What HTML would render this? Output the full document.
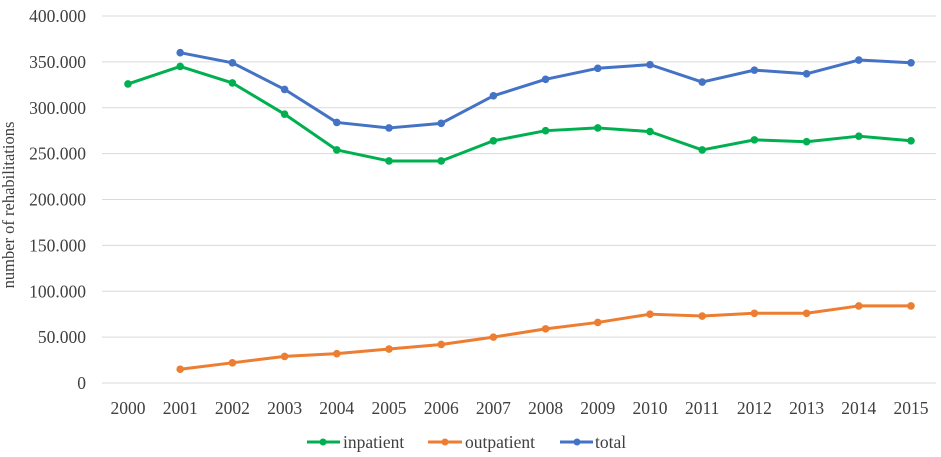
<!DOCTYPE html>
<html><head><meta charset="utf-8"><style>
body{margin:0;background:#fff}
svg{display:block;font-family:"Liberation Serif",serif}
</style></head><body>
<svg id="chart" width="941" height="457" viewBox="0 0 941 457">
<g id="grid"></g>
<g id="yticks"></g>
<g id="xticks"></g>
<text transform="translate(14,205) rotate(-90)" text-anchor="middle" font-size="16.5" fill="#404040">number  of rehabilitations</text>
<g id="series"></g>
<g font-size="17.5" fill="#404040">
<g><line x1="307" y1="442" x2="340" y2="442" stroke="#00b050" stroke-width="3"/><circle cx="323" cy="442" r="3.5" fill="#00b050"/><text x="343" y="448" fill="#404040">inpatient</text></g>
<g><line x1="428" y1="442" x2="462" y2="442" stroke="#ed7d31" stroke-width="3"/><circle cx="445" cy="442" r="3.5" fill="#ed7d31"/><text x="465" y="448" fill="#404040">outpatient</text></g>
<g><line x1="560" y1="442" x2="593" y2="442" stroke="#4472c4" stroke-width="3"/><circle cx="577" cy="442" r="3.5" fill="#4472c4"/><text x="595" y="448" fill="#404040">total</text></g>
</g>
</svg>
<script>
const years=[2000,2001,2002,2003,2004,2005,2006,2007,2008,2009,2010,2011,2012,2013,2014,2015];
const inpatient=[326000,345000,327000,293000,254000,242000,242000,264000,275000,278000,274000,254000,265000,263000,269000,264000];
const outpatient=[null,15000,22000,29000,32000,37000,42000,50000,59000,66000,75000,73000,76000,76000,84000,84000];
const total=[null,360000,349000,320000,284000,278000,283000,313000,331000,343000,347000,328000,341000,337000,352000,349000];
const yTicks=[0,50000,100000,150000,200000,250000,300000,350000,400000];
const yTickLabels=["0","50.000","100.000","150.000","200.000","250.000","300.000","350.000","400.000"];
const NS="http://www.w3.org/2000/svg";
const y=v=>383-v*(367/400000);
const x=i=>128+i*(783/15);
function el(t,a,p){const e=document.createElementNS(NS,t);for(const k in a)e.setAttribute(k,a[k]);p.appendChild(e);return e;}
const grid=document.getElementById('grid'),yt=document.getElementById('yticks'),xt=document.getElementById('xticks'),ser=document.getElementById('series');
yTicks.forEach((v,i)=>{
 const l=el('line',{x1:102,x2:936,y1:y(v),y2:y(v),stroke:'#d9d9d9','stroke-width':1},grid);
 
 
 const t=el('text',{x:86,y:y(v)+6,'text-anchor':'end','font-size':17.5,fill:'#404040'},yt);
 t.textContent=yTickLabels[i];
 
 
});
years.forEach((yr,i)=>{
 const t=el('text',{x:x(i),y:414,'text-anchor':'middle','font-size':17.5,fill:'#404040'},xt);
 t.textContent=yr;
 
 
});
[[inpatient,'#00b050','inpatient'],[outpatient,'#ed7d31','outpatient'],[total,'#4472c4','total']].forEach(([d,c,n])=>{
 const pts=[];d.forEach((v,i)=>{if(v!=null)pts.push([x(i),y(v)]);});
 const p=el('polyline',{points:pts.map(q=>q.join(',')).join(' '),fill:'none',stroke:c,'stroke-width':3,'stroke-linejoin':'round'},ser);
 
 
 pts.forEach(q=>{
  const m=el('circle',{cx:q[0],cy:q[1],r:3.8,fill:c},ser);
  
  
 });
});
</script>
</body></html>
